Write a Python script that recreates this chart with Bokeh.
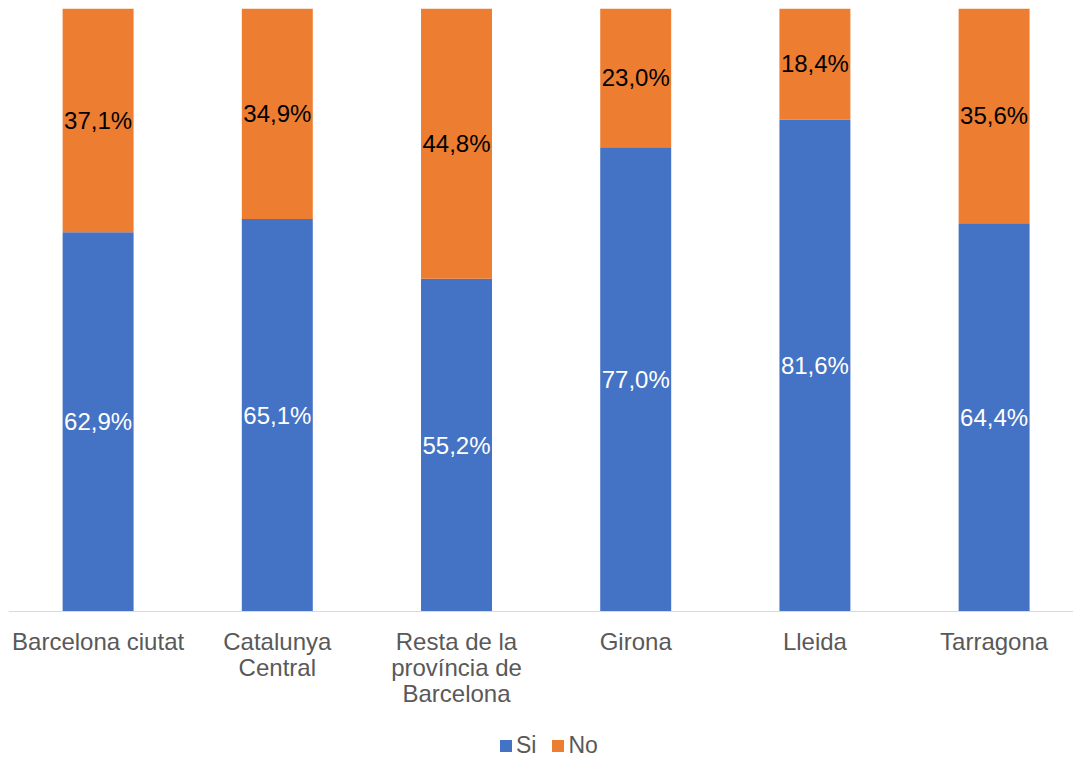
from bokeh.plotting import figure
from bokeh.models import ColumnDataSource, Range1d, Legend, LegendItem, Span
from bokeh.core.properties import value
from bokeh.embed import file_html
from bokeh.resources import INLINE

categories = ["Barcelona ciutat", "Catalunya\nCentral", "Resta de la\nprovíncia de\nBarcelona",
              "Girona", "Lleida", "Tarragona"]
si_values = [62.9, 65.1, 55.2, 77.0, 81.6, 64.4]
no_values = [37.1, 34.9, 44.8, 23.0, 18.4, 35.6]
series_names = ["Si", "No"]
colors = ["#4472C4", "#ED7D31"]

FONT = "Liberation Sans"

x = list(range(len(categories)))
si_top = [v / 100 for v in si_values]
no_top = [(s + n) / 100 for s, n in zip(si_values, no_values)]

def fmt(v):
    return f"{v:.1f}".replace(".", ",") + "%"

src = ColumnDataSource(dict(
    x=x,
    zero=[0] * len(x),
    si_top=si_top,
    no_top=no_top,
    si_mid=[t / 2 for t in si_top],
    no_mid=[(s + n) / 2 for s, n in zip(si_top, no_top)],
    si_lab=[fmt(v) for v in si_values],
    no_lab=[fmt(v) for v in no_values],
    cat=categories,
))

# frame covers the whole chart; the value axis runs 0..1 over the upper 603 px
p = figure(output_backend="svg", toolbar_location=None,
           x_axis_type=None, y_axis_type=None,
           x_range=Range1d(-0.5, 5.443), y_range=Range1d(-150 / 603, 1),
           min_border_left=8, min_border_right=0, min_border_top=8,
           min_border_bottom=0)
p.frame_height = 753
p.frame_width = 1065
p.xgrid.visible = False
p.ygrid.visible = False
p.outline_line_color = None

bw = 0.396
r_si = p.vbar(x="x", bottom="zero", top="si_top", width=bw, source=src,
              fill_color=colors[0], line_color=None)
r_no = p.vbar(x="x", bottom="si_top", top="no_top", width=bw, source=src,
              fill_color=colors[1], line_color=None)

# category axis baseline
p.add_layout(Span(location=0, dimension="width", line_color="#D9D9D9", line_width=1))

p.text(x="x", y="si_mid", text="si_lab", source=src, text_color="white",
       text_font=value(FONT), text_font_size="24px", text_align="center",
       text_baseline="middle")
p.text(x="x", y="no_mid", text="no_lab", source=src, text_color="black",
       text_font=value(FONT), text_font_size="24px", text_align="center",
       text_baseline="middle")

# category labels
p.text(x="x", y="zero", text="cat", source=src, text_color="#595959",
       text_font=value(FONT), text_font_size="24px", text_align="center",
       text_baseline="top", text_line_height=0.98, y_offset=16)

legend = Legend(items=[LegendItem(label=series_names[0], renderers=[r_si]),
                       LegendItem(label=series_names[1], renderers=[r_no])],
                orientation="horizontal", location=(490, 2),
                glyph_width=15, glyph_height=15, label_standoff=3, spacing=14,
                label_height=12,
                label_text_font=FONT, label_text_font_size="23px",
                label_text_color="#595959", border_line_color=None,
                background_fill_alpha=0, padding=0, margin=0)
p.add_layout(legend, "center")

open("out.html", "w").write(file_html(p, INLINE))
